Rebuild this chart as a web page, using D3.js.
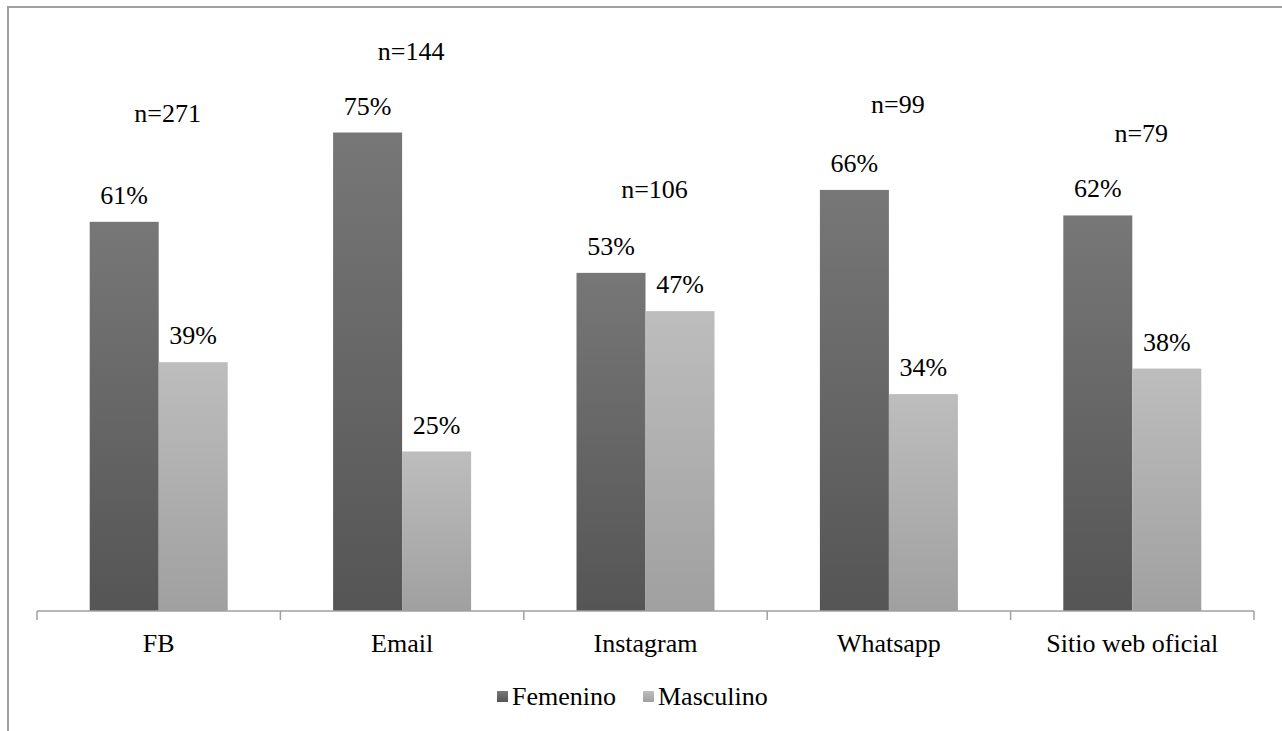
<!DOCTYPE html>
<html>
<head>
<meta charset="utf-8">
<script src="https://cdn.jsdelivr.net/npm/d3@7"></script>
<style>
  body { margin: 0; background: #fff; }
  svg text { font-family: "Times New Roman", Times, Tinos, "Nimbus Roman", "Liberation Serif", "DejaVu Serif", "Noto Serif", serif; }
</style>
</head>
<body>
<div id="chart"></div>
<script>
// data
const categories = ["FB", "Email", "Instagram", "Whatsapp", "Sitio web oficial"];
const femenino = [61, 75, 53, 66, 62];
const masculino = [39, 25, 47, 34, 38];
const sampleSizes = [271, 144, 106, 99, 79];
// level (in % units) where each n= label sits in the original
const nLabelLevel = [76.6, 86.4, 64.7, 78.0, 73.5];
const seriesNames = ["Femenino", "Masculino"];

const W = 1282, H = 731;
const svg = d3.select("#chart").append("svg")
    .attr("width", W).attr("height", H);

const defs = svg.append("defs");
const grads = [
    { id: "gFem", top: "#777777", bottom: "#555555" },
    { id: "gMas", top: "#bdbdbd", bottom: "#a0a0a0" }
];
grads.forEach(g => {
    const lg = defs.append("linearGradient").attr("id", g.id)
        .attr("x1", 0).attr("y1", 0).attr("x2", 0).attr("y2", 1);
    lg.append("stop").attr("offset", "0%").attr("stop-color", g.top);
    lg.append("stop").attr("offset", "100%").attr("stop-color", g.bottom);
});

// outer frame (only top and left edges show in the picture)
svg.append("rect")
    .attr("x", 8).attr("y", 7).attr("width", 1400).attr("height", 900)
    .attr("fill", "none").attr("stroke", "#a0a0a0").attr("stroke-width", 2);

const x0 = d3.scaleBand().domain(categories).range([37, 1254]);
const x1 = d3.scaleBand().domain(seriesNames).range([0, 138])
    .paddingInner(0);
const y = d3.scaleLinear().domain([0, 80]).range([611, 100.6]);

const rows = categories.map((c, i) => ({
    cat: c,
    vals: [
        { s: "Femenino", v: femenino[i], fill: "url(#gFem)" },
        { s: "Masculino", v: masculino[i], fill: "url(#gMas)" }
    ],
    n: sampleSizes[i],
    nLevel: nLabelLevel[i]
}));

const groups = svg.selectAll(".cat").data(rows).join("g")
    .attr("class", "cat")
    .attr("transform", d => `translate(${x0(d.cat) + x0.bandwidth() / 2 - 69},0)`);

groups.selectAll("rect").data(d => d.vals).join("rect")
    .attr("x", d => x1(d.s))
    .attr("y", d => y(d.v))
    .attr("width", x1.bandwidth())
    .attr("height", d => y(0) - y(d.v))
    .attr("fill", d => d.fill);

groups.selectAll(".pct").data(d => d.vals).join("text")
    .attr("class", "pct")
    .attr("x", d => x1(d.s) + x1.bandwidth() / 2)
    .attr("y", d => y(d.v) - 18)
    .attr("text-anchor", "middle")
    .attr("font-size", 26)
    .text(d => d.v + "%");

groups.append("text")
    .attr("x", 69 + 9)
    .attr("y", d => y(d.nLevel))
    .attr("text-anchor", "middle")
    .attr("font-size", 26)
    .text(d => "n=" + d.n);

// axis
const axis = svg.append("g").attr("transform", "translate(0,611)");
axis.append("line")
    .attr("x1", 37).attr("x2", 1254)
    .attr("stroke", "#a0a0a0").attr("stroke-width", 1.5);
const bounds = categories.map(c => x0(c)).concat([x0.range()[1]]);
axis.selectAll(".tick").data(bounds).join("line")
    .attr("x1", d => d).attr("x2", d => d)
    .attr("y1", 0).attr("y2", 9)
    .attr("stroke", "#a0a0a0").attr("stroke-width", 1.5);
axis.selectAll(".lbl").data(categories).join("text")
    .attr("x", d => x0(d) + x0.bandwidth() / 2)
    .attr("y", 41)
    .attr("text-anchor", "middle")
    .attr("font-size", 26)
    .text(d => d);

// legend
const legend = svg.append("g").attr("transform", "translate(497,0)");
const legItems = [
    { name: seriesNames[0], fill: "url(#gFem)", x: 0 },
    { name: seriesNames[1], fill: "url(#gMas)", x: 146 }
];
const li = legend.selectAll("g").data(legItems).join("g")
    .attr("transform", d => `translate(${d.x},0)`);
li.append("rect").attr("x", 0).attr("y", 691).attr("width", 11).attr("height", 11)
    .attr("fill", d => d.fill);
li.append("text").attr("x", 15).attr("y", 705)
    .attr("font-size", 26)
    .text(d => d.name);
</script>
</body>
</html>
